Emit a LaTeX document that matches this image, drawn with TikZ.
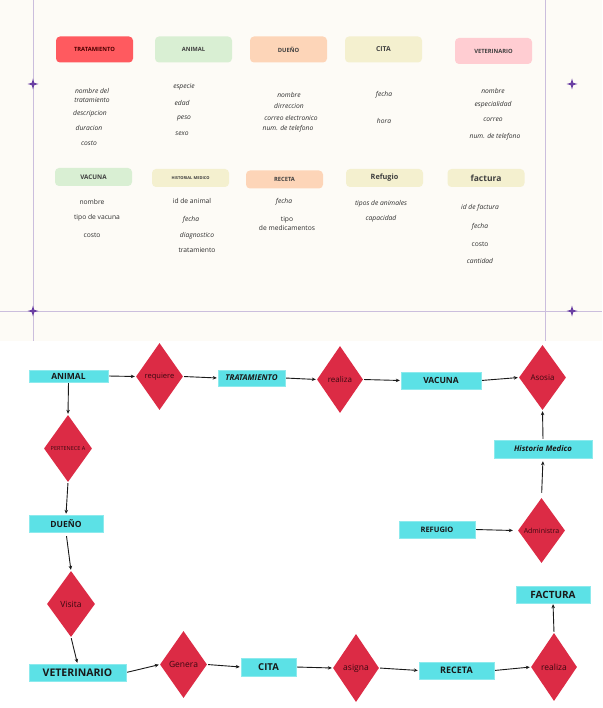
\documentclass[tikz,border=0pt]{standalone}
\usepackage{fontspec}
\setmainfont{Open Sans}
\usetikzlibrary{shapes.geometric,arrows.meta}
\definecolor{cream}{HTML}{FDFBF6}
\definecolor{gridline}{HTML}{CBBEDD}
\definecolor{starcol}{HTML}{6A3FA3}
\definecolor{hred}{HTML}{FF5A5F}
\definecolor{hgreen}{HTML}{D9EFD3}
\definecolor{hpeach}{HTML}{FDD5B8}
\definecolor{hyellow}{HTML}{F4F0CF}
\definecolor{hpink}{HTML}{FFCDD2}
\definecolor{cyanbox}{HTML}{5CE1E6}
\definecolor{crimson}{HTML}{DC2B45}
\definecolor{attrtext}{HTML}{2E2E2E}
\definecolor{dmtext}{HTML}{3A0810}
\tikzset{
  hdr/.style={rounded corners=4pt, minimum width=77pt, minimum height=26pt, inner sep=0pt, text=black!75, font=\bfseries\fontsize{5.8}{6}\selectfont},
  hdrsmall/.style={hdr, minimum height=18pt},
  attr/.style={text=attrtext, inner sep=0pt, align=center, font=\itshape\fontsize{6.7}{9}\selectfont},
  attrup/.style={attr, font=\fontsize{6.7}{9}\selectfont},
  ent/.style={fill=cyanbox, draw=cyanbox!70!white, line width=0.4pt, inner sep=0pt, text=black!90, font=\bfseries\fontsize{8.5}{9}\selectfont},
  rel/.style={diamond, fill=crimson, inner sep=0pt, minimum width=47pt, minimum height=67pt},
  rlabel/.style={text=dmtext, font=\fontsize{7.5}{8}\selectfont},
  arr/.style={-{Stealth[length=4pt,width=3.5pt]}, line width=0.9pt, black!90, shorten >=1pt, shorten <=1pt},
  star4/.pic={\fill[starcol] (0,-5.5) -- (1.2,-1.2) -- (5.5,0) -- (1.2,1.2) -- (0,5.5) -- (-1.2,1.2) -- (-5.5,0) -- (-1.2,-1.2) -- cycle;}
}
\begin{document}
\begin{tikzpicture}[x=1pt,y=-1pt]
\useasboundingbox (0,0) rectangle (602,708);
\fill[white] (0,0) rectangle (602,708);
\fill[cream] (0,0) rectangle (602,341);
% grid lines
\draw[gridline, line width=0.8pt] (33,0) -- (33,341);
\draw[gridline, line width=0.8pt] (545.5,0) -- (545.5,341);
\draw[gridline, line width=0.8pt] (0,311) -- (602,311);
\pic at (33,84) {star4};
\pic at (572,84) {star4};
\pic at (33,311) {star4};
\pic at (572,311) {star4};
% top header boxes row 1
\node[hdr, fill=hred, text=black!70!red] (hTrat) at (94.5,49.5) {TRATAMIENTO};
\node[hdr, fill=hgreen] (hAnim) at (193.5,49.5) {ANIMAL};
\node[hdr, fill=hpeach] (hDueno) at (288.5,49.5) {DUEÑO};
\node[hdr, fill=hyellow, font=\bfseries\fontsize{6.8}{7}\selectfont] (hCita) at (383.5,49.5) {CITA};
\node[hdr, fill=hpink] (hVet) at (493.5,51) {VETERINARIO};
% row 2
\node[hdrsmall, fill=hgreen, font=\bfseries\fontsize{6.3}{7}\selectfont] (hVac) at (93.5,177) {VACUNA};
\node[hdrsmall, fill=hyellow, font=\bfseries\fontsize{4}{5}\selectfont] (hHist) at (190.5,178) {HISTORIAL MEDICO};
\node[hdrsmall, fill=hpeach] (hRec) at (284.5,179.5) {RECETA};
\node[hdrsmall, fill=hyellow, font=\bfseries\fontsize{7.3}{8}\selectfont] (hRef) at (384.5,178) {Refugio};
\node[hdrsmall, fill=hyellow, font=\bfseries\fontsize{8.5}{9}\selectfont] (hFac) at (486,178) {factura};
% attributes tratamiento
\node[attr] (a1) at (92,95.5) {nombre del\\tratamiento};
\node[attr] (a2) at (90,114) {descripcion};
\node[attr] (a3) at (89,128) {duracion};
\node[attr] (a4) at (89,143) {costo};
% animal
\node[attr] (b1) at (184,87) {especie};
\node[attr] (b2) at (182,103) {edad};
\node[attr] (b3) at (184,118) {peso};
\node[attr] (b4) at (182,134) {sexo};
% dueno
\node[attr] (c1) at (289,95) {nombre};
\node[attr] (c2) at (289,105.5) {dirreccion};
\node[attr] (c3) at (291,118) {correo electronico};
\node[attr] (c4) at (288,128.5) {num. de telefono};
% cita
\node[attr] (d1) at (384,94.5) {fecha};
\node[attr] (d2) at (384,121) {hora};
% veterinario
\node[attr] (e1) at (493,91) {nombre};
\node[attr] (e2) at (493,105) {especialidad};
\node[attr] (e3) at (493,120) {correo};
\node[attr] (e4) at (495,137) {num. de telefono};
% vacuna
\node[attrup] (f1) at (92,202) {nombre};
\node[attrup] (f2) at (97,218) {tipo de vacuna};
\node[attrup] (f3) at (92,235.5) {costo};
% historial
\node[attrup] (g1) at (192,201) {id de animal};
\node[attr] (g2) at (191,220) {fecha};
\node[attr] (g3) at (197,235.5) {diagnostico};
\node[attrup] (g4) at (197,250) {tratamiento};
% receta
\node[attr] (h1) at (284,202) {fecha};
\node[attrup] (h2) at (287,224) {tipo\\de medicamentos};
% refugio
\node[attr] (i1) at (381,204) {tipos de animales};
\node[attr] (i2) at (381,218.5) {capacidad};
% factura
\node[attr] (j1) at (480,208) {id de factura};
\node[attr] (j2) at (480,227) {fecha};
\node[attrup] (j3) at (480,244) {costo};
\node[attr] (j4) at (480,261) {cantidad};

% ===== bottom diagram =====
\node[ent, minimum width=79pt, minimum height=12pt] (animal) at (68.5,376) {ANIMAL};
\node[ent, minimum width=67pt, minimum height=16pt, font=\bfseries\itshape\fontsize{8}{9}\selectfont] (trat) at (251.5,378) {TRATAMIENTO};
\node[ent, minimum width=80pt, minimum height=17pt] (vacuna) at (441,380.5) {VACUNA};
\node[ent, minimum width=98pt, minimum height=18pt, font=\bfseries\itshape\fontsize{7.8}{9}\selectfont] (hist) at (543,449) {Historia Medico};
\node[ent, minimum width=74pt, minimum height=17pt] (dueno) at (66,523.5) {DUEÑO};
\node[ent, minimum width=97pt, minimum height=17pt, font=\bfseries\fontsize{10.5}{12}\selectfont] (vet) at (77.5,672.5) {VETERINARIO};
\node[ent, minimum width=55pt, minimum height=18pt, font=\bfseries\fontsize{9.5}{10}\selectfont] (cita) at (268.5,667) {CITA};
\node[ent, minimum width=75pt, minimum height=17pt, font=\bfseries\fontsize{9}{10}\selectfont] (receta) at (456.5,670.5) {RECETA};
\node[ent, minimum width=74pt, minimum height=17pt, font=\bfseries\fontsize{10}{11}\selectfont] (factura) at (553,594.5) {FACTURA};
\node[ent, minimum width=76pt, minimum height=17pt, font=\bfseries\fontsize{7.5}{8}\selectfont] (refugio) at (437,529.5) {REFUGIO};

\node[rel, label={[rlabel]center:requiere}] (req) at (159.5,376.5) {};
\node[rel, minimum width=46pt, label={[rlabel, font=\fontsize{8}{9}\selectfont]center:realiza}] (real1) at (340,379.5) {};
\node[rel, minimum height=65pt, label={[rlabel, font=\fontsize{8}{9}\selectfont]center:Asosia}] (asosia) at (542.5,377.5) {};
\node[rel, minimum width=48pt, label={[rlabel, font=\fontsize{5.5}{6}\selectfont]center:PERTENECE A}] (pert) at (68,448.5) {};
\node[rel, minimum width=48pt, minimum height=66pt, label={[rlabel, font=\fontsize{8.5}{9}\selectfont]center:Visita}] (visita) at (71,604) {};
\node[rel, label={[rlabel, font=\fontsize{8.5}{9}\selectfont]center:Genera}] (genera) at (183.5,664.5) {};
\node[rel, minimum width=46pt, minimum height=68pt, label={[rlabel, font=\fontsize{8.5}{9}\selectfont]center:asigna}] (asigna) at (356,668) {};
\node[rel, minimum width=46pt, minimum height=68pt, label={[rlabel, font=\fontsize{8.5}{9}\selectfont]center:realiza}] (real2) at (554,667) {};
\node[rel, minimum height=65pt, label={[rlabel, font=\fontsize{7}{8}\selectfont]center:Administra}] (admin) at (541.5,530.5) {};

\draw[arr] (animal.east) -- (req.west);
\draw[arr] (req.east) -- (trat.west);
\draw[arr] (trat.east) -- (real1.west);
\draw[arr] (real1.east) -- (vacuna.west);
\draw[arr] (vacuna.east) -- (asosia.west);
\draw[arr] (hist.north) -- (asosia.south);
\draw[arr, shorten <=5pt, shorten >=3pt] (admin.north) -- (hist.south);
\draw[arr] (refugio.east) -- ([xshift=-4pt]admin.west);
\draw[arr] (animal.south) -- (pert.north);
\draw[arr] (pert.south) -- (dueno.north);
\draw[arr, shorten <=4pt] (dueno.south) -- (visita.north);
\draw[arr] (visita.south) -- (vet.north);
\draw[arr] (vet.east) -- (genera.west);
\draw[arr] (genera.east) -- (cita.west);
\draw[arr] (cita.east) -- (asigna.west);
\draw[arr] (asigna.east) -- (receta.west);
\draw[arr] (receta.east) -- (real2.west);
\draw[arr] (real2.north) -- (factura.south);
\end{tikzpicture}
\end{document}
